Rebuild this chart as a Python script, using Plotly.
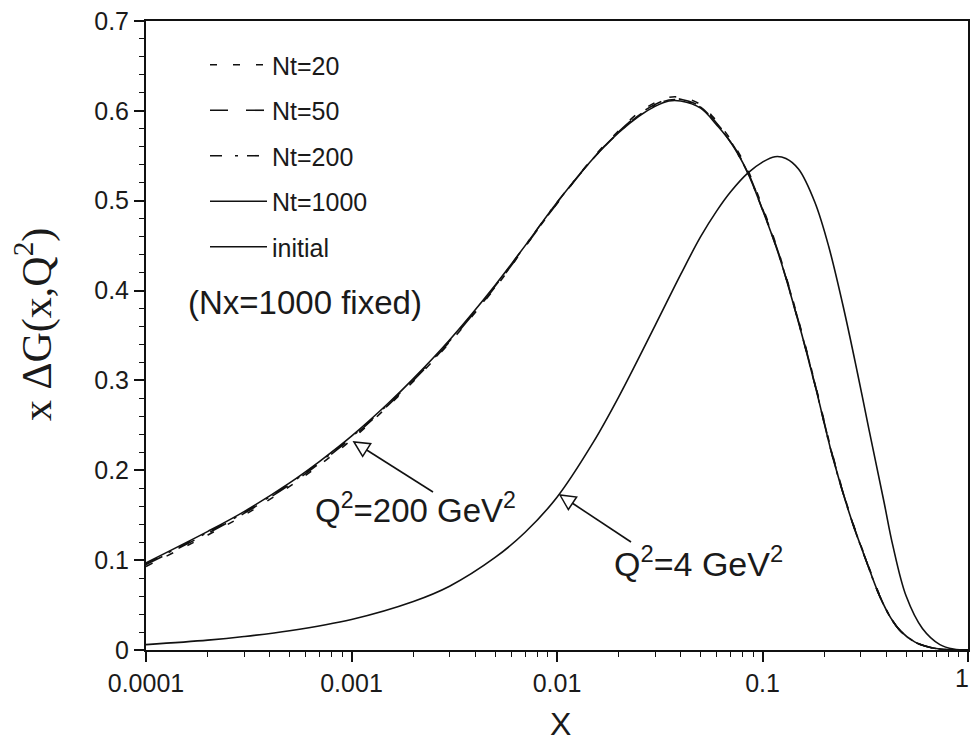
import numpy as np
import plotly.graph_objects as go

# ---------------- data ----------------
x_evol = [1e-4, 2e-4, 3e-4, 5e-4, 7e-4, 1e-3, 1.5e-3, 2e-3, 3e-3, 5e-3, 7e-3,
          1e-2, 0.015, 0.02, 0.025, 0.03, 0.035, 0.04, 0.05, 0.06, 0.07, 0.084,
          0.1, 0.12, 0.15, 0.18, 0.22, 0.27, 0.32, 0.37, 0.42, 0.47, 0.55,
          0.65, 0.75, 0.85, 1.0]
y_nt1000 = [0.097, 0.132, 0.154, 0.186, 0.210, 0.238, 0.274, 0.302, 0.345, 0.406, 0.450,
            0.498, 0.547, 0.576, 0.594, 0.605, 0.611, 0.611, 0.603, 0.584, 0.565, 0.533,
            0.490, 0.440, 0.364, 0.295, 0.214, 0.146, 0.099, 0.061, 0.036, 0.021, 0.009,
            0.003, 0.0008, 0.0001, 0.0]
y_nt20 = [0.093, 0.128, 0.150, 0.182, 0.206, 0.234, 0.271, 0.299, 0.342, 0.403, 0.449,
          0.497, 0.548, 0.578, 0.598, 0.609, 0.615, 0.615, 0.607, 0.588, 0.568, 0.536,
          0.493, 0.442, 0.366, 0.297, 0.216, 0.147, 0.100, 0.062, 0.036, 0.021, 0.009,
          0.003, 0.0008, 0.0001, 0.0]
y_nt50 = [0.095, 0.130, 0.152, 0.184, 0.208, 0.236, 0.272, 0.300, 0.343, 0.404, 0.449,
          0.497, 0.547, 0.577, 0.596, 0.607, 0.613, 0.613, 0.605, 0.586, 0.566, 0.534,
          0.491, 0.441, 0.365, 0.296, 0.215, 0.146, 0.099, 0.061, 0.036, 0.021, 0.009,
          0.003, 0.0008, 0.0001, 0.0]
y_nt200 = [0.096, 0.131, 0.153, 0.185, 0.209, 0.237, 0.273, 0.301, 0.344, 0.405, 0.450,
           0.498, 0.547, 0.576, 0.595, 0.606, 0.612, 0.612, 0.604, 0.585, 0.565, 0.533,
           0.490, 0.440, 0.364, 0.295, 0.214, 0.146, 0.099, 0.061, 0.036, 0.021, 0.009,
           0.003, 0.0008, 0.0001, 0.0]

x_init = [1e-4, 2e-4, 3e-4, 5e-4, 1e-3, 2e-3, 3e-3, 5e-3, 7e-3, 1e-2, 0.015, 0.02,
          0.03, 0.04, 0.05, 0.06, 0.07, 0.085, 0.1, 0.115, 0.13, 0.15, 0.18, 0.21,
          0.25, 0.29, 0.33, 0.39, 0.43, 0.5, 0.6, 0.73, 0.85, 1.0]
y_init = [0.006, 0.011, 0.015, 0.0215, 0.034, 0.054, 0.071, 0.103, 0.131, 0.170, 0.231, 0.282,
          0.361, 0.418, 0.460, 0.489, 0.510, 0.531, 0.543, 0.549, 0.547, 0.535, 0.498, 0.449,
          0.377, 0.308, 0.245, 0.165, 0.117, 0.060, 0.024, 0.006, 0.001, 0.0]

x_tickvals = [1e-4, 1e-3, 1e-2, 1e-1, 1.0]
x_ticktext = ["0.0001", "0.001", "0.01", "0.1", "1"]
y_tickvals = [0, 0.1, 0.2, 0.3, 0.4, 0.5, 0.6, 0.7]
y_ticktext = ["0", "0.1", "0.2", "0.3", "0.4", "0.5", "0.6", "0.7"]

# ---------------- figure ----------------
W, H = 973, 748
L, R, T, B = 146, 5, 21, 98
PW, PH = W - L - R, H - T - B
INK = "#111111"
TXT = "#1a1a1a"
SANS = "Liberation Sans, Arial, sans-serif"
SERIF = "Liberation Serif, Times New Roman, serif"
TICKSIZE = 25


def px2paper(px, py):
    return (px - L) / PW, (H - B - py) / PH


fig = go.Figure()
series = [
    ("Nt=20", x_evol, y_nt20, "7px,16px"),
    ("Nt=50", x_evol, y_nt50, "18px,18px"),
    ("Nt=200", x_evol, y_nt200, "12px,13px,3px,9px"),
    ("Nt=1000", x_evol, y_nt1000, "solid"),
    ("initial", x_init, y_init, "solid"),
]
for name, xs, ys, dash in series:
    fig.add_trace(go.Scatter(x=xs, y=ys, mode="lines", name=name, legendgroup=name,
                             line=dict(color=INK, width=1.6, dash=dash, shape="spline",
                                       smoothing=1.0)))

# the last x label ("1") sits on the page edge; it is drawn as an annotation below
x_ticktext_axis = x_ticktext[:-1] + [""]
fig.update_xaxes(type="log", range=[-4, 0], tickvals=x_tickvals, ticktext=x_ticktext_axis,
                 ticks="outside", ticklen=10, tickwidth=1.5, tickcolor=INK,
                 showline=True, linewidth=2, linecolor=INK, mirror=True,
                 showgrid=False, zeroline=False,
                 tickfont=dict(family=SANS, size=TICKSIZE, color=TXT),
                 minor=dict(tickvals=[m * 10.0 ** e for e in range(-4, 0) for m in range(2, 10)],
                            ticks="outside", ticklen=5, tickwidth=1.2, tickcolor=INK,
                            showgrid=False))
fig.update_yaxes(range=[0, 0.7], tickvals=y_tickvals, ticktext=y_ticktext,
                 ticks="outside", ticklen=10, tickwidth=1.5, tickcolor=INK,
                 ticklabeloverflow="allow",
                 showline=True, linewidth=2, linecolor=INK, mirror=True,
                 showgrid=False, zeroline=False,
                 tickfont=dict(family=SANS, size=TICKSIZE, color=TXT),
                 minor=dict(dtick=0.02, ticks="outside", ticklen=5, tickwidth=1.2,
                            tickcolor=INK, showgrid=False))

lx, ly = px2paper(205, 42)
fig.update_layout(
    width=W, height=H, margin=dict(l=L, r=R, t=T, b=B, autoexpand=False),
    plot_bgcolor="white", paper_bgcolor="white",
    font=dict(family=SANS, color=TXT),
    showlegend=True,
    legend=dict(x=lx, y=ly, xanchor="left", yanchor="top", bgcolor="rgba(0,0,0,0)",
                font=dict(family=SANS, size=25, color=TXT), itemwidth=57,
                tracegroupgap=10, traceorder="grouped"),
)

ann = []
# last x tick label
ann.append(dict(text=x_ticktext[-1], x=1.0, y=0, xref="paper", yref="paper",
                xanchor="right", yanchor="top", yshift=-12, xshift=3, showarrow=False,
                font=dict(family=SANS, size=TICKSIZE, color=TXT)))
# axis titles
ax_, ay_ = px2paper(34, 325)
ann.append(dict(text="x ΔG(x,Q<sup>2</sup>)", x=ax_, y=ay_, xref="paper", yref="paper",
                textangle=-90, showarrow=False, xanchor="center", yanchor="middle",
                font=dict(family=SERIF, size=42, color=TXT)))
ax_, ay_ = px2paper(560, 724)
ann.append(dict(text="X", x=ax_, y=ay_, xref="paper", yref="paper", showarrow=False,
                xanchor="center", yanchor="middle", font=dict(family=SANS, size=32, color=TXT)))
# in-plot texts
for txt, cx, cy, sz in [("(Nx=1000 fixed)", 305, 302, 33),
                        ("Q<sup>2</sup>=200 GeV<sup>2</sup>", 415, 508, 33),
                        ("Q<sup>2</sup>=4 GeV<sup>2</sup>", 698, 561, 34)]:
    px_, py_ = px2paper(cx, cy)
    ann.append(dict(text=txt, x=px_, y=py_, xref="paper", yref="paper", showarrow=False,
                    xanchor="center", yanchor="middle", font=dict(family=SANS, size=sz, color=TXT)))
fig.update_layout(annotations=ann)

# arrows with hollow triangle heads (pixel geometry -> paper)
shapes = []
for (tx, ty), (sx, sy) in [((354, 442), (433, 492)), ((560, 495), (631, 542))]:
    d = np.array([sx - tx, sy - ty], float)
    d /= np.hypot(*d)
    pperp = np.array([-d[1], d[0]])
    base = np.array([tx, ty]) + 15 * d
    c1 = base + 7.5 * pperp
    c2 = base - 7.5 * pperp
    bx0, by0 = px2paper(*base)
    bx1, by1 = px2paper(sx, sy)
    shapes.append(dict(type="line", xref="paper", yref="paper", x0=bx0, y0=by0, x1=bx1, y1=by1,
                       line=dict(color=INK, width=1.6)))
    pts = [px2paper(tx, ty), px2paper(*c1), px2paper(*c2)]
    path = "M {} {} L {} {} L {} {} Z".format(*[v for p in pts for v in p])
    shapes.append(dict(type="path", xref="paper", yref="paper", path=path,
                       fillcolor="white", line=dict(color=INK, width=1.5)))
fig.update_layout(shapes=shapes)

# remove the browser's default 8px page margin so the figure sits at the window origin,
# and hide the interactive mode bar
fig.write_html("out.html", config={"displayModeBar": False},
               post_script="document.body.style.margin='0px';document.body.style.overflow='hidden';")
